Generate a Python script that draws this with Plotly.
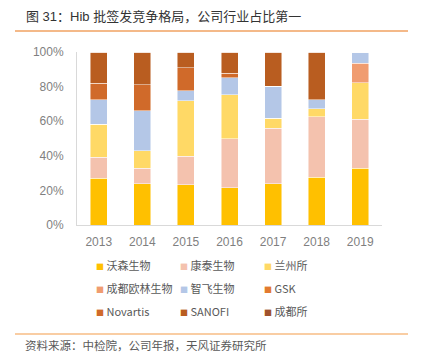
import plotly.graph_objects as go

years = ["2013", "2014", "2015", "2016", "2017", "2018", "2019"]
series_names = ["沃森生物", "康泰生物", "兰州所", "成都欧林生物", "智飞生物", "GSK", "Novartis", "SANOFI", "成都所"]
walvax = [27.0, 23.9, 23.4, 21.6, 23.9, 27.6, 32.8]
cansino = [12.2, 8.9, 16.4, 28.2, 31.9, 35.1, 28.2]
lanzhou = [19.1, 10.0, 32.1, 25.5, 5.8, 4.5, 21.2]
olymvax = [0, 0, 0, 0, 0, 0, 11.4]
zhifei = [14.1, 23.2, 5.6, 9.8, 18.5, 5.2, 6.4]
gsk = [0, 0, 0, 0, 0, 0, 0]
novartis = [9.6, 15.1, 13.5, 2.7, 0, 0, 0]
sanofi = [18.0, 18.9, 9.0, 12.2, 19.9, 27.6, 0]
chengdu = [0, 0, 0, 0, 0, 0, 0]
colors = ["#FFC000", "#F4C2AE", "#FFD966", "#F09C70", "#B4C7E7", "#E27A30", "#D06A2A", "#B95D20", "#A0522D"]

series = [walvax, cansino, lanzhou, olymvax, zhifei, gsk, novartis, sanofi, chengdu]
font_family = "Liberation Sans, Arial, Noto Sans CJK SC"

# pixel geometry helpers (plot area: x 77..382, y 52..225)
PL, PW, PT, PH = 77, 305, 52, 173
def px(x):
    return (x - PL) / PW
def py(y):
    return (PT + PH - y) / PH

legend_ids = ["legend", "legend", "legend", "legend2", "legend2", "legend2", "legend3", "legend3", "legend3"]

fig = go.Figure()
for name, vals, col in zip(series_names, series, colors):
    fig.add_trace(go.Bar(
        x=years, y=[v / 100 for v in vals], name=name, showlegend=False,
        marker=dict(color=col, line=dict(color="rgba(255,255,255,0.6)", width=0.8)),
    ))
for name, col, lg in zip(series_names, colors, legend_ids):
    fig.add_trace(go.Scatter(
        x=[None], y=[None], mode="markers", legend=lg,
        name=f'<span style="font-size:8px;color:{col}">■</span> {name}',
        marker=dict(symbol="square", size=1, color="rgba(0,0,0,0)"),
    ))

legend_font = dict(family="Noto Sans CJK SC, Liberation Sans", size=11, color="#595959")
def legend_row(y):
    return dict(orientation="h", x=px(56), xanchor="left", y=py(y), yanchor="middle",
                entrywidth=39, entrywidthmode="pixels", font=legend_font,
                itemwidth=30, traceorder="normal", bgcolor="rgba(0,0,0,0)")

fig.update_layout(
    width=428, height=353, barmode="stack", bargap=0.61,
    margin=dict(l=PL, r=428 - PL - PW, t=PT, b=353 - PT - PH, autoexpand=False),
    plot_bgcolor="white", paper_bgcolor="white",
    font=dict(family=font_family, size=12, color="#7F7F7F"),
    xaxis=dict(showline=True, linecolor="#D9D9D9", linewidth=1, showgrid=False,
               ticks="", ticklabelstandoff=6, tickfont=dict(size=12, color="#7F7F7F")),
    yaxis=dict(range=[0, 1], tickvals=[0, 0.2, 0.4, 0.6, 0.8, 1.0],
               ticktext=["0%", "20%", "40%", "60%", "80%", "100%"],
               showline=True, linecolor="#D9D9D9", linewidth=1, showgrid=False,
               zeroline=False, ticks="", ticklabelstandoff=10,
               tickfont=dict(size=12, color="#7F7F7F")),
    legend=legend_row(266),
    legend2=legend_row(289),
    legend3=legend_row(312),
    showlegend=True,
)

fig.add_annotation(text="图 31：Hib 批签发竞争格局，公司行业占比第一", xref="paper", yref="paper",
                   x=px(24), y=py(16), xanchor="left", yanchor="middle",
                   showarrow=False, font=dict(family="Liberation Sans, Noto Sans CJK SC", size=13, color="#333333"))
fig.add_annotation(text="资料来源：中检院，公司年报，天风证券研究所", xref="paper", yref="paper",
                   x=px(23), y=py(345), xanchor="left", yanchor="middle",
                   showarrow=False, font=dict(family="Noto Sans CJK SC", size=11.5, color="#595959"))
fig.add_shape(type="line", xref="paper", yref="paper",
              x0=px(15), x1=px(408), y0=py(31), y1=py(31),
              line=dict(color="#F0A262", width=1.5))
fig.add_shape(type="line", xref="paper", yref="paper",
              x0=px(15), x1=px(408), y0=py(334), y1=py(334),
              line=dict(color="#F7BC85", width=1.5))

fig.write_html("out.html")
